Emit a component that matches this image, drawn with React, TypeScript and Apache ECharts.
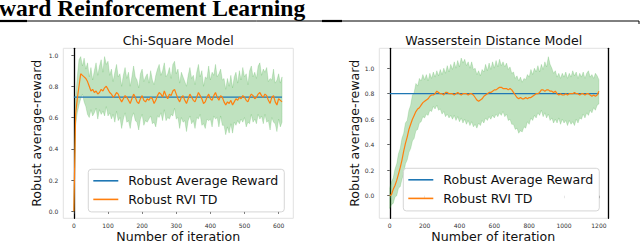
import React, { useEffect, useRef } from "react";
import * as echarts from "echarts";

// ---------------- data ----------------
const headerText = "ward Reinforcement Learning";
const chiTitle = "Chi-Square Model";
const wassTitle = "Wasserstein Distance Model";
const yName = "Robust average-reward";
const xName = "Number of iteration";
const seriesNames = ["Robust Average Reward", "Robust RVI TD"];

const chiXTicks = [0, 100, 200, 300, 400, 500, 600];
const wassXTicks = [0, 200, 400, 600, 800, 1000, 1200];
const yTicks = [0, 0.2, 0.4, 0.6, 0.8, 1.0];

const chiRobustReward = 0.73;
const wassRobustReward = 0.8;

const chiIter = [
  0, 5, 10, 15, 20, 25, 30, 35, 40, 45, 50, 55, 60, 65, 70, 75, 80, 85, 90, 95,
  100, 105, 110, 115, 120, 125, 130, 135, 140, 145, 150, 155, 160, 165, 170, 175, 180, 185, 190, 195,
  200, 205, 210, 215, 220, 225, 230, 235, 240, 245, 250, 255, 260, 265, 270, 275, 280, 285, 290, 295,
  300, 305, 310, 315, 320, 325, 330, 335, 340, 345, 350, 355, 360, 365, 370, 375, 380, 385, 390, 395,
  400, 405, 410, 415, 420, 425, 430, 435, 440, 445, 450, 455, 460, 465, 470, 475, 480, 485, 490, 495,
  500, 505, 510, 515, 520, 525, 530, 535, 540, 545, 550, 555, 560, 565, 570, 575, 580, 585, 590, 595,
  600, 605, 610,
];
const chiRviTd = [
  0.0, 0.62, 0.72, 0.8, 0.88, 0.87, 0.86, 0.85, 0.83, 0.8,
  0.77, 0.78, 0.76, 0.77, 0.75, 0.76, 0.78, 0.77, 0.79, 0.8,
  0.78, 0.76, 0.75, 0.73, 0.74, 0.76, 0.75, 0.72, 0.7, 0.72,
  0.74, 0.73, 0.71, 0.69, 0.72, 0.75, 0.73, 0.7, 0.69, 0.72,
  0.74, 0.71, 0.7, 0.72, 0.71, 0.73, 0.72, 0.69, 0.71, 0.74,
  0.76, 0.75, 0.73, 0.77, 0.74, 0.72, 0.75, 0.74, 0.77, 0.78,
  0.75, 0.72, 0.7, 0.73, 0.74, 0.71, 0.69, 0.72, 0.75, 0.73,
  0.71, 0.7, 0.73, 0.76, 0.74, 0.72, 0.69, 0.7, 0.73, 0.75,
  0.72, 0.71, 0.74, 0.76, 0.73, 0.71, 0.74, 0.73, 0.7, 0.68,
  0.7, 0.69, 0.71, 0.68, 0.7, 0.72, 0.71, 0.73, 0.72, 0.74,
  0.73, 0.71, 0.7, 0.73, 0.75, 0.74, 0.72, 0.73, 0.75, 0.76,
  0.74, 0.73, 0.75, 0.74, 0.71, 0.69, 0.73, 0.74, 0.7, 0.68,
  0.72, 0.71, 0.7,
];
const chiUpper = [
  0.0, 0.72, 0.86, 0.97, 0.99, 0.93, 0.98, 0.91, 0.95, 0.86,
  0.92, 0.84, 0.9, 0.95, 0.87, 0.93, 0.97, 0.89, 0.99, 0.94,
  0.96, 0.87, 0.91, 0.83, 0.89, 0.94, 0.86, 0.88, 0.8, 0.87,
  0.92, 0.85, 0.89, 0.8, 0.86, 0.93, 0.86, 0.84, 0.79, 0.88,
  0.91, 0.83, 0.86, 0.88, 0.82, 0.9, 0.84, 0.81, 0.87, 0.91,
  0.94, 0.87, 0.9, 0.95, 0.86, 0.88, 0.92, 0.85, 0.94, 0.96,
  0.88, 0.91, 0.82, 0.89, 0.86, 0.83, 0.8, 0.87, 0.92, 0.85,
  0.87, 0.81, 0.89, 0.94, 0.86, 0.9, 0.8, 0.86, 0.85, 0.93,
  0.84, 0.89, 0.87, 0.94, 0.86, 0.88, 0.91, 0.84, 0.85, 0.78,
  0.85, 0.8, 0.87, 0.79, 0.86, 0.89, 0.82, 0.9, 0.84, 0.92,
  0.86, 0.88, 0.81, 0.9, 0.93, 0.86, 0.89, 0.85, 0.93, 0.95,
  0.87, 0.91, 0.89, 0.92, 0.83, 0.85, 0.84, 0.91, 0.82, 0.84,
  0.88, 0.82, 0.86,
];
const chiLower = [
  0.0, 0.55, 0.63, 0.68, 0.72, 0.75, 0.7, 0.67, 0.62, 0.6,
  0.65, 0.61, 0.63, 0.66, 0.59, 0.65, 0.62, 0.64, 0.61, 0.67,
  0.61, 0.63, 0.59, 0.62, 0.57, 0.64, 0.58, 0.6, 0.53, 0.59,
  0.63, 0.57, 0.58, 0.53, 0.6, 0.63, 0.58, 0.57, 0.52, 0.59,
  0.62, 0.55, 0.58, 0.57, 0.59, 0.61, 0.56, 0.57, 0.54, 0.61,
  0.6, 0.63, 0.58, 0.65, 0.58, 0.6, 0.59, 0.62, 0.61, 0.66,
  0.59, 0.6, 0.53, 0.6, 0.57, 0.58, 0.51, 0.58, 0.61, 0.56,
  0.58, 0.53, 0.6, 0.59, 0.62, 0.55, 0.56, 0.53, 0.59, 0.58,
  0.59, 0.54, 0.61, 0.59, 0.6, 0.54, 0.61, 0.55, 0.55, 0.49,
  0.54, 0.5, 0.56, 0.5, 0.57, 0.55, 0.58, 0.56, 0.59, 0.57,
  0.6, 0.54, 0.57, 0.56, 0.62, 0.57, 0.59, 0.56, 0.62, 0.59,
  0.61, 0.56, 0.62, 0.57, 0.58, 0.52, 0.6, 0.57, 0.56, 0.51,
  0.59, 0.54, 0.57,
];

const wassIter = [
  0, 10, 20, 30, 40, 50, 60, 70, 80, 90,
  100, 110, 120, 130, 140, 150, 160, 170, 180, 190,
  200, 210, 220, 230, 240, 250, 260, 270, 280, 290,
  300, 310, 320, 330, 340, 350, 360, 370, 380, 390,
  400, 410, 420, 430, 440, 450, 460, 470, 480, 490,
  500, 510, 520, 530, 540, 550, 560, 570, 580, 590,
  600, 610, 620, 630, 640, 650, 660, 670, 680, 690,
  700, 710, 720, 730, 740, 750, 760, 770, 780, 790,
  800, 810, 820, 830, 840, 850, 860, 870, 880, 890,
  900, 910, 920, 930, 940, 950, 960, 970, 980, 990,
  1000, 1010, 1020, 1030, 1040, 1050, 1060, 1070, 1080, 1090,
  1100, 1110, 1120, 1130, 1140, 1150, 1160, 1170, 1180, 1190,
  1200,
];
const wassRviTd = [
  0.0, 0.01, 0.05, 0.08, 0.12, 0.17, 0.22, 0.28, 0.35, 0.41,
  0.46, 0.52, 0.56, 0.6, 0.63, 0.66, 0.68, 0.69, 0.71, 0.73,
  0.74, 0.75, 0.76, 0.78, 0.79, 0.79, 0.8, 0.82, 0.81, 0.8,
  0.8, 0.79, 0.81, 0.81, 0.8, 0.8, 0.8, 0.79, 0.8, 0.81,
  0.8, 0.79, 0.8, 0.8, 0.8, 0.79, 0.8, 0.8, 0.79, 0.77,
  0.75, 0.74, 0.75, 0.76, 0.78, 0.79, 0.8, 0.81, 0.81, 0.82,
  0.83, 0.83, 0.84, 0.85, 0.85, 0.84, 0.84, 0.84, 0.83, 0.84,
  0.83, 0.81, 0.79, 0.77, 0.76, 0.77, 0.76, 0.76, 0.77, 0.76,
  0.77, 0.77, 0.78, 0.79, 0.8, 0.8, 0.81, 0.83, 0.83, 0.82,
  0.83, 0.83, 0.82, 0.82, 0.81, 0.82, 0.8, 0.79, 0.8, 0.79,
  0.79, 0.8, 0.79, 0.8, 0.8, 0.8, 0.81, 0.8, 0.8, 0.79,
  0.8, 0.8, 0.79, 0.8, 0.8, 0.79, 0.78, 0.79, 0.78, 0.79,
  0.82,
];
const wassUpper = [
  0.06, 0.11, 0.14, 0.21, 0.25, 0.33, 0.37, 0.45, 0.49, 0.57,
  0.59, 0.67, 0.71, 0.79, 0.81, 0.88, 0.86, 0.92, 0.9, 0.95,
  0.91, 0.95, 0.9, 0.96, 0.92, 0.97, 0.93, 0.98, 0.94, 0.99,
  0.95, 1.0, 0.96, 1.02, 0.97, 1.03, 0.99, 1.05, 1.0, 1.06,
  1.01, 1.08, 1.04, 1.07, 1.02, 1.05, 1.0, 1.05, 0.99, 1.0,
  0.95, 0.98, 0.94, 0.99, 0.97, 1.03, 0.98, 1.04, 0.99, 1.05,
  1.0, 1.06, 1.01, 1.07, 1.02, 1.05, 1.01, 1.04, 0.99, 1.01,
  0.96, 0.97, 0.92, 0.94, 0.9, 0.93, 0.89, 0.92, 0.91, 0.95,
  0.93, 0.99, 0.95, 1.0, 0.97, 1.02, 0.97, 1.03, 0.99, 1.05,
  1.01, 1.09, 1.03, 1.0, 0.96, 0.98, 0.93, 0.96, 0.92, 0.96,
  0.93, 0.97, 0.92, 0.96, 0.93, 0.98, 0.94, 0.97, 0.92, 0.96,
  0.93, 0.97, 0.92, 0.96, 0.98, 0.93, 0.95, 0.92, 0.96, 0.94,
  0.91,
];
const wassLower = [
  -0.1, -0.07, -0.06, -0.01, 0.0, 0.06, 0.07, 0.13, 0.17, 0.25,
  0.28, 0.34, 0.37, 0.43, 0.45, 0.51, 0.52, 0.57, 0.58, 0.62,
  0.61, 0.64, 0.63, 0.67, 0.66, 0.7, 0.68, 0.71, 0.67, 0.68,
  0.64, 0.66, 0.62, 0.64, 0.61, 0.63, 0.6, 0.63, 0.59, 0.62,
  0.58, 0.61, 0.57, 0.6, 0.56, 0.59, 0.55, 0.58, 0.54, 0.56,
  0.53, 0.57, 0.55, 0.59, 0.57, 0.61, 0.59, 0.62, 0.6, 0.63,
  0.61, 0.64, 0.62, 0.65, 0.63, 0.66, 0.62, 0.64, 0.59, 0.6,
  0.56, 0.56, 0.52, 0.53, 0.49, 0.51, 0.5, 0.54, 0.53, 0.58,
  0.56, 0.61, 0.59, 0.63, 0.61, 0.65, 0.63, 0.67, 0.62, 0.65,
  0.61, 0.64, 0.59, 0.61, 0.57, 0.6, 0.57, 0.61, 0.56, 0.6,
  0.57, 0.59, 0.55, 0.59, 0.56, 0.58, 0.55, 0.6, 0.57, 0.61,
  0.6, 0.64, 0.61, 0.65, 0.63, 0.67, 0.65, 0.69, 0.67, 0.71,
  0.72,
];

// ---------------- styling ----------------
const FONT = "'DejaVu Sans', sans-serif";
const BLUE = "#1f77b4";
const ORANGE = "#ff7f0e";
const BAND_FILL = "rgba(44,160,44,0.3)";
const BAND_EDGE = "rgba(44,160,44,0.3)";

// shaded band (fill_between) drawn through the axes' own scales
function bandSeries(xs: number[], lower: number[], upper: number[], idx: number) {
  return {
    type: "custom",
    xAxisIndex: idx,
    yAxisIndex: idx,
    silent: true,
    data: xs.map((x, i) => [x, lower[i], upper[i]]),
    encode: { x: 0, y: [1, 2] },
    renderItem: (params: any, api: any) => {
      if (params.dataIndex !== 0) return null;
      const top = xs.map((x, i) => api.coord([x, upper[i]]));
      const bottom = xs.map((x, i) => api.coord([x, lower[i]])).reverse();
      return {
        type: "polygon",
        shape: { points: top.concat(bottom) },
        style: { fill: BAND_FILL, stroke: BAND_EDGE, lineWidth: 0.6 },
      };
    },
  };
}

function xAxisFor(idx: number, min: number, max: number, ticks: number[]) {
  return {
    type: "value",
    gridIndex: idx,
    min,
    max,
    axisLine: { show: false },
    splitLine: { show: false },
    axisTick: {
      show: true,
      customValues: ticks,
      length: 2.5,
      lineStyle: { color: "#333", width: 0.8 },
    },
    axisLabel: {
      customValues: ticks,
      formatter: (v: number) => String(v),
      fontSize: 6,
      color: "#333",
      margin: 4,
      fontFamily: FONT,
    },
  };
}

function yAxisFor(idx: number, min: number, max: number, gap: number) {
  return {
    type: "value",
    gridIndex: idx,
    min,
    max,
    axisLine: { show: true, lineStyle: { color: "#000", width: 1.3 } },
    splitLine: { show: false },
    axisTick: {
      show: true,
      customValues: yTicks,
      length: 2.5,
      lineStyle: { color: "#333", width: 0.8 },
    },
    axisLabel: {
      customValues: yTicks,
      formatter: (v: number) => v.toFixed(1),
      fontSize: 6,
      color: "#333",
      margin: 5,
      fontFamily: FONT,
    },
    name: yName,
    nameLocation: "middle",
    nameGap: gap,
    nameTextStyle: { fontSize: 12.6, color: "#111", fontFamily: FONT },
  };
}

function legendFor(left: number, top: number) {
  return {
    data: seriesNames,
    orient: "vertical",
    left,
    top,
    icon: "rect",
    itemWidth: 25,
    itemHeight: 1.6,
    itemGap: 3.6,
    padding: [4, 6, 5, 5],
    backgroundColor: "rgba(255,255,255,0.85)",
    borderColor: "#cccccc",
    borderWidth: 0.8,
    borderRadius: 3,
    selectedMode: false,
    textStyle: {
      fontSize: 12.6,
      lineHeight: 15,
      color: "#111",
      fontFamily: FONT,
      padding: [0, 0, 0, 5],
    },
  };
}

function label(text: string, x: number, y: number) {
  return {
    type: "text",
    x,
    y,
    style: {
      text,
      fontSize: 12.6,
      fontFamily: FONT,
      fill: "#111",
      align: "center",
      verticalAlign: "middle",
    },
  };
}

export default function App() {
  const ref = useRef<HTMLDivElement>(null);
  useEffect(() => {
    if (!ref.current) return;
    const chart = echarts.init(ref.current, null, { renderer: "svg" });
    const chiLast = chiIter[chiIter.length - 1];
    const wassLast = wassIter[wassIter.length - 1];
    const option: any = {
      animation: false,
      backgroundColor: "#ffffff",
      grid: [
        {
          left: 63.3,
          top: 48.3,
          width: 230,
          height: 170,
          show: true,
          borderColor: "#e2e2e2",
          borderWidth: 1,
          backgroundColor: "transparent",
        },
        {
          left: 379.3,
          top: 48.3,
          width: 229,
          height: 170,
          show: true,
          borderColor: "#e2e2e2",
          borderWidth: 1,
          backgroundColor: "transparent",
        },
      ],
      xAxis: [
        xAxisFor(0, -31, 643, chiXTicks),
        xAxisFor(1, -60, 1254, wassXTicks),
      ],
      yAxis: [
        yAxisFor(0, -0.045, 1.043, 20),
        yAxisFor(1, -0.177, 1.156, 14.5),
        {
          type: "value",
          gridIndex: 1,
          position: "right",
          min: -0.177,
          max: 1.156,
          axisLine: { show: true, lineStyle: { color: "#000", width: 1.3 } },
          axisTick: { show: false },
          axisLabel: { show: false },
          splitLine: { show: false },
        },
      ],
      legend: [legendFor(88.3, 169.3), legendFor(403.3, 168.3)],
      graphic: [
        {
          type: "text",
          x: -1,
          y: 8,
          style: {
            text: headerText,
            fontSize: 23.6,
            fontWeight: "bold",
            fontFamily: "'Liberation Serif', serif",
            fill: "#000",
            align: "left",
            verticalAlign: "middle",
          },
        },
        { type: "line", shape: { x1: 0, y1: 21, x2: 639, y2: 21 }, style: { stroke: "#000", lineWidth: 1 } },
        { type: "line", shape: { x1: 0, y1: 21, x2: 27, y2: 21 }, style: { stroke: "#000", lineWidth: 2.2 } },
        { type: "line", shape: { x1: 322, y1: 21, x2: 342, y2: 21 }, style: { stroke: "#000", lineWidth: 2.2 } },
        { type: "line", shape: { x1: 639, y1: 21, x2: 639, y2: 24 }, style: { stroke: "#000", lineWidth: 1 } },
        label(chiTitle, 178.3, 40.2),
        label(wassTitle, 493.8, 40.2),
        label(xName, 178.3, 236.5),
        label(xName, 493.3, 236.5),
      ],
      series: [
        bandSeries(chiIter, chiLower, chiUpper, 0),
        {
          name: seriesNames[0],
          type: "line",
          xAxisIndex: 0,
          yAxisIndex: 0,
          symbol: "none",
          color: BLUE,
          lineStyle: { color: BLUE, width: 1.2 },
          data: [
            [chiIter[0], chiRobustReward],
            [chiLast, chiRobustReward],
          ],
        },
        {
          name: seriesNames[1],
          type: "line",
          xAxisIndex: 0,
          yAxisIndex: 0,
          symbol: "none",
          color: ORANGE,
          lineStyle: { color: ORANGE, width: 1.2 },
          data: chiIter.map((x, i) => [x, chiRviTd[i]]),
        },
        bandSeries(wassIter, wassLower, wassUpper, 1),
        {
          name: seriesNames[0],
          type: "line",
          xAxisIndex: 1,
          yAxisIndex: 1,
          symbol: "none",
          color: BLUE,
          lineStyle: { color: BLUE, width: 1.2 },
          data: [
            [wassIter[0], wassRobustReward],
            [wassLast, wassRobustReward],
          ],
        },
        {
          name: seriesNames[1],
          type: "line",
          xAxisIndex: 1,
          yAxisIndex: 1,
          symbol: "none",
          color: ORANGE,
          lineStyle: { color: ORANGE, width: 1.2 },
          data: wassIter.map((x, i) => [x, wassRviTd[i]]),
        },
      ],
    };
    chart.setOption(option);
    return () => chart.dispose();
  }, []);
  return (
    <div
      ref={ref}
      style={{ position: "fixed", left: 0, top: 0, width: 640, height: 242, background: "#fff" }}
    />
  );
}
